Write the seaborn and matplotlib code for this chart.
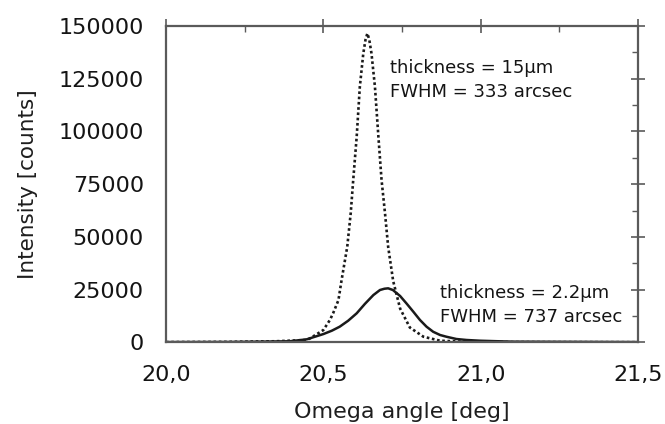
import matplotlib
matplotlib.use("Agg")
import matplotlib.pyplot as plt
import seaborn as sns
import pandas as pd
from matplotlib.ticker import MultipleLocator, FuncFormatter

# ---- data ----
omega_15um = [20.00, 20.20, 20.35, 20.447, 20.458, 20.500, 20.521, 20.531, 20.548, 20.558,
              20.576, 20.587, 20.595, 20.606, 20.616, 20.627, 20.634, 20.640, 20.646,
              20.653, 20.664, 20.675, 20.685, 20.696, 20.706, 20.722, 20.744, 20.775,
              20.818, 20.871, 20.95, 21.10, 21.50]
counts_15um = [100, 200, 500, 1100, 1900, 5800, 10600, 13750, 20000, 29500,
               45300, 61200, 77000, 97500, 121200, 137000, 143500, 146500, 143500,
               137000, 121200, 97500, 77000, 61200, 45300, 29000, 16000, 7000,
               2650, 750, 250, 100, 50]

omega_2um = [20.00, 20.20, 20.30, 20.394, 20.447, 20.500, 20.527, 20.552, 20.579,
             20.606, 20.632, 20.659, 20.680, 20.694, 20.706, 20.721, 20.744, 20.765,
             20.786, 20.807, 20.828, 20.849, 20.871, 20.891, 20.923, 20.955, 20.998,
             21.10, 21.50]
counts_2um = [100, 150, 300, 500, 1400, 3900, 5500, 7400, 10240,
              13750, 18200, 22400, 24800, 25400, 25600, 24800, 21950, 18300,
              14500, 10600, 7400, 5000, 3460, 2650, 1560, 1100, 750,
              300, 100]

x_ticks = [20.0, 20.5, 21.0, 21.5]
y_ticks = [0, 25000, 50000, 75000, 100000, 125000, 150000]

labels = ["thickness = 15\u00b5m\nFWHM = 333 arcsec",
          "thickness = 2.2\u00b5m\nFWHM = 737 arcsec"]

df15 = pd.DataFrame({"omega": omega_15um, "counts": counts_15um})
df2 = pd.DataFrame({"omega": omega_2um, "counts": counts_2um})

sns.set_theme(style="white")
plt.rcParams["font.family"] = ["DejaVu Sans"]

fig = plt.figure(figsize=(6.65, 4.24), dpi=100)
ax = fig.add_axes([166/665, 1-342.3/424, (638-166)/665, (342.3-26)/424])

line_col = "#1a1a1a"
sns.lineplot(data=df15, x="omega", y="counts", ax=ax, color=line_col,
             linewidth=1.9, linestyle=(0, (1, 1.0)), estimator=None, sort=False)
sns.lineplot(data=df2, x="omega", y="counts", ax=ax, color=line_col,
             linewidth=1.8, estimator=None, sort=False)

ax.set_xlim(20.0, 21.5)
ax.set_ylim(0, 150000)
ax.set_xticks(x_ticks)
ax.set_yticks(y_ticks)
ax.xaxis.set_minor_locator(MultipleLocator(0.25))
ax.yaxis.set_minor_locator(MultipleLocator(12500))
ax.xaxis.set_major_formatter(FuncFormatter(lambda v, p: f"{v:.1f}".replace(".", ",")))
ax.yaxis.set_major_formatter(FuncFormatter(lambda v, p: f"{int(v)}"))

spine_col = "#5a5a5a"
for s in ax.spines.values():
    s.set_visible(True)
    s.set_color(spine_col)
    s.set_linewidth(1.6)

ax.tick_params(which="major", direction="inout", length=10, width=1.2,
               color=spine_col, top=True, right=True, labelsize=16,
               labelcolor="#141414", pad=11)
ax.tick_params(which="minor", direction="in", length=4, width=1.0,
               color=spine_col, top=True, right=True)

ax.set_xlabel("Omega angle [deg]", fontsize=16, color="#1e1e1e", labelpad=12.5)
ax.set_ylabel("Intensity [counts]", fontsize=15.5, color="#1e1e1e", labelpad=14.5)

ax.text(20.712, 116460, labels[0], fontsize=13, color="#141414",
        va="baseline", ha="left", linespacing=1.42)
ax.text(20.871, 9770, labels[1], fontsize=13, color="#141414",
        va="baseline", ha="left", linespacing=1.42)

ax.grid(False)
fig.savefig("out.png", dpi=100, facecolor="white")
